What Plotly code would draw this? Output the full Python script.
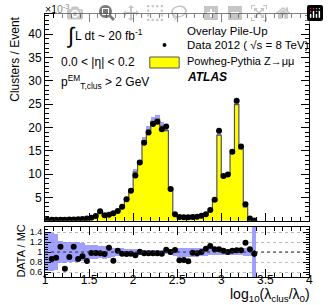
import plotly.graph_objects as go

# ---------------- data (values in units of 1e-3 clusters / event) ----------------
bin_width = 0.05
bin_centers = [round(1.025 + bin_width * i, 3) for i in range(48)]

data_values = [0.2, 0.2, 0.2, 0.22, 0.22, 0.25, 0.27, 0.3, 0.35, 0.45,
               0.65, 1.0, 2.0, 1.15, 1.3, 1.6, 2.1, 3.0, 4.6, 6.4,
               9.7, 12.5, 16.7, 18.9, 20.7, 21.2, 19.6, 20.2, 6.8, 1.4,
               0.8, 0.75, 0.75, 0.8, 0.85, 1.05, 1.4, 2.3, 4.5, 19.3,
               9.6, 9.9, 14.8, 25.7, 15.9, 3.5, 0.45, 0.05]

mc_values = [0.22, 0.233, 0.225, 0.2, 0.33, 0.28, 0.244, 0.35, 0.383, 0.55,
             0.66, 1.02, 2.06, 1.2, 1.2, 1.93, 2.04, 3.1, 4.8, 6.62,
             10.4, 12.41, 17.16, 19.42, 21.27, 21.79, 20.27, 19.29, 6.8, 1.35,
             0.96, 0.89, 0.92, 0.81, 0.87, 1.05, 1.31, 2.05, 4.27, 18.33,
             9.35, 9.9, 14.41, 24.88, 15.39, 2.95, 0.43, 0.052]

# relative MC uncertainty per bin
mc_rel_err = [0.38, 0.38, 0.36, 0.22, 0.21, 0.2, 0.2, 0.2, 0.18, 0.15,
              0.14, 0.14, 0.12, 0.13, 0.11, 0.09, 0.08, 0.08, 0.07, 0.06,
              0.06, 0.05, 0.05, 0.045, 0.045, 0.04, 0.04, 0.04, 0.06, 0.08,
              0.09, 0.09, 0.09, 0.09, 0.09, 0.08, 0.07, 0.06, 0.06, 0.05,
              0.05, 0.05, 0.05, 0.05, 0.05, 0.08, 0.08, 0.6]

# DATA / MC ratio (first bin has no ratio point)
ratio_centers = bin_centers[1:]
ratio_values = [0.86, 0.887, 1.107, 0.667, 0.9, 1.107, 0.86, 0.913, 0.82,
                0.98, 0.98, 0.973, 0.96, 1.087, 0.827, 1.027, 0.967, 0.96, 0.967,
                0.933, 1.007, 0.973, 0.973, 0.973, 0.973, 0.967, 1.047, 1.0, 1.04,
                0.833, 0.84, 0.813, 0.987, 0.973, 1.0, 1.067, 1.12, 1.053, 1.053,
                1.027, 1.0, 1.027, 1.033, 1.033, 1.187, 1.053, 0.967]
ratio_errors = [0] * 46 + [0.07]

main_yticks = [5, 10, 15, 20, 25, 30, 35, 40]
ratio_yticks = [0.6, 0.8, 1.0, 1.2, 1.4]
ratio_yticklabels = ["0.6", "0.8", "1", "1.2", "1.4"]
x_ticks = [1, 1.5, 2, 2.5, 3, 3.5, 4]
x_ticklabels = ["1", "1.5", "2", "2.5", "3", "3.5", "4"]

# ---------------- layout helpers ----------------
W, H = 329, 305
FONT = "Liberation Sans, Arial, Helvetica, sans-serif"


def fx(p):
    return p / W


def fy(p):
    return 1 - p / H


edges = [round(1.0 + bin_width * i, 3) for i in range(49)]
step_x = [edges[0]] + edges + [edges[-1]]
step_y = [0] + mc_values + [mc_values[-1], 0]

band_lo = [m * (1 - e) for m, e in zip(mc_values, mc_rel_err)]
band_h = [2 * m * e for m, e in zip(mc_values, mc_rel_err)]
rband_lo = [1 - e for e in mc_rel_err]
rband_h = [2 * e for e in mc_rel_err]

BAND = "rgba(128,128,255,0.75)"

fig = go.Figure()

# yellow MC fill
fig.add_trace(go.Scatter(x=step_x, y=step_y, mode="lines", line=dict(shape="hv", width=0),
                         fill="tozeroy", fillcolor="#ffff00", hoverinfo="skip",
                         xaxis="x", yaxis="y", showlegend=False))
# MC uncertainty band (main)
fig.add_trace(go.Bar(x=bin_centers, y=band_h, base=band_lo, width=bin_width,
                     marker=dict(color=BAND, line=dict(width=0)),
                     xaxis="x", yaxis="y", showlegend=False))
# MC outline
fig.add_trace(go.Scatter(x=step_x, y=step_y, mode="lines",
                         line=dict(shape="hv", width=1.2, color="#555555"),
                         xaxis="x", yaxis="y", showlegend=False))
# data points
fig.add_trace(go.Scatter(x=bin_centers, y=data_values, mode="markers",
                         marker=dict(color="black", size=6),
                         xaxis="x", yaxis="y", showlegend=False))

# ratio band
fig.add_trace(go.Bar(x=bin_centers, y=rband_h, base=rband_lo, width=bin_width,
                     marker=dict(color=BAND, line=dict(width=0)),
                     xaxis="x2", yaxis="y2", showlegend=False))
# ratio points
fig.add_trace(go.Scatter(x=ratio_centers, y=ratio_values, mode="markers",
                         marker=dict(color="black", size=6),
                         error_y=dict(type="data", array=ratio_errors, visible=True,
                                      color="black", thickness=1, width=0),
                         xaxis="x2", yaxis="y2", showlegend=False))

xdom = [fx(43), fx(313)]
axis_common = dict(showline=True, linecolor="black", linewidth=1, mirror="allticks",
                   ticks="inside", tickcolor="black", showgrid=False, zeroline=False)

fig.update_layout(
    width=W, height=H,
    margin=dict(l=0, r=0, t=0, b=0),
    paper_bgcolor="white", plot_bgcolor="white",
    barmode="overlay", bargap=0,
    font=dict(family=FONT, color="black", size=12),
    xaxis=dict(domain=xdom, range=[1, 4], anchor="y", tickvals=x_ticks, showticklabels=False,
               ticklen=8, minor=dict(dtick=0.1, tick0=1, ticklen=4, ticks="inside", tickcolor="black"),
               **axis_common),
    yaxis=dict(domain=[fy(220.7), fy(14)], range=[0, 44.3], anchor="x", tickvals=main_yticks,
               ticklen=8, tickfont=dict(size=12),
               minor=dict(dtick=1, tick0=0, ticklen=4, ticks="inside", tickcolor="black"),
               **axis_common),
    xaxis2=dict(domain=xdom, range=[1, 4], anchor="y2", tickvals=x_ticks, ticktext=x_ticklabels,
                tickfont=dict(size=12), ticklen=8, ticklabelstandoff=-8,
                minor=dict(dtick=0.1, tick0=1, ticklen=4, ticks="inside", tickcolor="black"),
                **axis_common),
    yaxis2=dict(domain=[fy(277), fy(227)], range=[0.5, 1.5], anchor="x2",
                tickvals=ratio_yticks, ticktext=ratio_yticklabels, tickfont=dict(size=9),
                ticklen=6, minor=dict(dtick=0.05, tick0=0.5, ticklen=3, ticks="inside", tickcolor="black"),
                showline=True, linecolor="black", linewidth=1, mirror="allticks",
                ticks="inside", tickcolor="black", zeroline=False,
                showgrid=True, gridcolor="#bbbbbb", griddash="dot", gridwidth=1),
)

# dotted line at ratio 1
fig.add_shape(type="line", xref="x2", yref="y2", x0=1, x1=4, y0=1, y1=1,
              line=dict(color="#333333", width=1.2, dash="dot"))

# legend drawing
fig.add_shape(type="rect", xref="paper", yref="paper", x0=fx(150), x1=fx(180), y0=fy(68), y1=fy(57),
              fillcolor="#ffff00", line=dict(color="#555555", width=1))
fig.add_shape(type="circle", xref="paper", yref="paper", x0=fx(163), x1=fx(167), y0=fy(47), y1=fy(43),
              fillcolor="black", line=dict(color="black", width=0))


def note(text, x, y, size=12, xanchor="left", yanchor="middle", **kw):
    fig.add_annotation(text=text, x=fx(x), y=fy(y), xref="paper", yref="paper",
                       xanchor=xanchor, yanchor=yanchor, showarrow=False,
                       font=dict(family=FONT, size=size, color="black"), **kw)


note("×10<sup>-3</sup>", 41, 8, size=10.5)
note("∫", 62, 35, size=22)
note("L dt ~ 20 fb<sup>-1</sup>", 72, 35, size=12)
note("0.0 < |η| < 0.2", 57, 62, size=12)
note("p<sup>EM</sup><sub>T,clus</sub> > 2 GeV", 57, 82, size=12)

note("Overlay Pile-Up", 186, 31, size=11.5)
note("Data 2012 ( √s = 8 TeV)", 186, 45, size=11.5)
note("Powheg-Pythia Z→μμ", 186, 61, size=11)
note("<b><i>ATLAS</i></b>", 186, 77, size=12)

note("Clusters / Event", 12, 59, size=12, xanchor="center", textangle=-90)
note("DATA / MC", 18, 251, size=11, xanchor="center", textangle=-90)
note("log<sub>10</sub>(λ<sub>clus</sub>/λ<sub>0</sub>)", 316, 295, size=14, xanchor="right")

fig.write_html("out.html",
               post_script="document.body.style.margin='0';document.body.style.overflow='hidden';")
